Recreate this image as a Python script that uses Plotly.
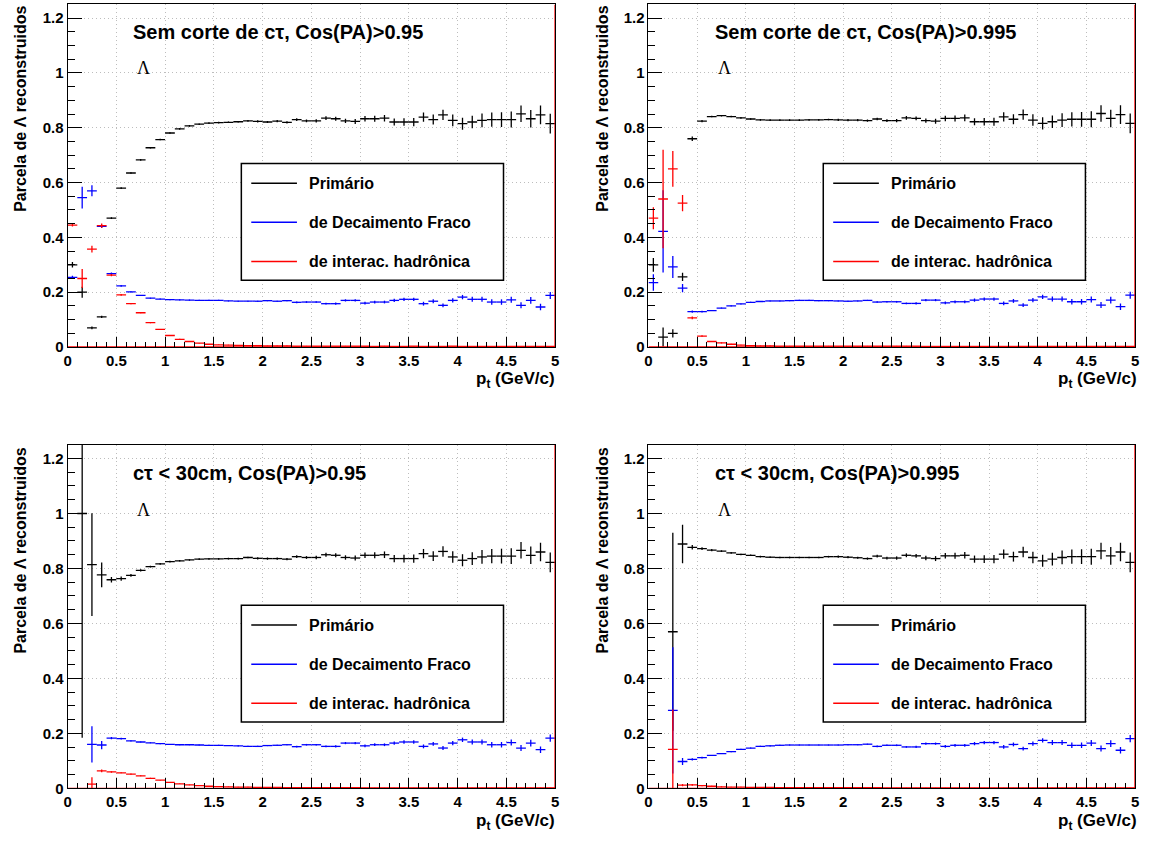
import plotly.graph_objects as go

W, H = 1151, 845

# ---------------- data ----------------
PT = [0.05, 0.15, 0.25, 0.35, 0.45, 0.55, 0.65, 0.75, 0.85, 0.95,
      1.05, 1.15, 1.25, 1.35, 1.45, 1.55, 1.65, 1.75, 1.85, 1.95,
      2.05, 2.15, 2.25, 2.35, 2.45, 2.55, 2.65, 2.75, 2.85, 2.95,
      3.05, 3.15, 3.25, 3.35, 3.45, 3.55, 3.65, 3.75, 3.85, 3.95,
      4.05, 4.15, 4.25, 4.35, 4.45, 4.55, 4.65, 4.75, 4.85, 4.95]
BIN_HALF = 0.05
PT_MIN, PT_MAX = 0.0, 5.0
Y_MIN, Y_MAX = 0.0, 1.25

ERR_PRIM_TAIL = [0.005, 0.006, 0.007, 0.007, 0.008, 0.009, 0.010, 0.011, 0.012, 0.013,
                 0.014, 0.015, 0.017, 0.018, 0.019, 0.021, 0.022, 0.023, 0.025, 0.026,
                 0.027, 0.029, 0.030, 0.032, 0.034, 0.036]
ERR_WEAK_TAIL = [0.003, 0.003, 0.003, 0.004, 0.004, 0.004, 0.005, 0.005, 0.005, 0.006,
                 0.006, 0.006, 0.007, 0.007, 0.007, 0.008, 0.008, 0.009, 0.009, 0.010,
                 0.010, 0.011, 0.011, 0.012, 0.012, 0.013]
ERR_HAD_TAIL = [0.001, 0.001, 0.001, 0.001, 0.001, 0.001, 0.001, 0.001, 0.001, 0.001,
                0.001, 0.001, 0.001, 0.001, 0.001, 0.001, 0.001, 0.001, 0.001, 0.001,
                0.001, 0.001, 0.001, 0.001, 0.001, 0.001]

# Panel 1: Sem corte de ctau, Cos(PA)>0.95
P1_PRIM = [0.300, 0.200, 0.070, 0.110, 0.470, 0.580, 0.635, 0.683, 0.727, 0.757,
           0.781, 0.796, 0.807, 0.813, 0.817, 0.819, 0.820, 0.822, 0.825, 0.823,
           0.821, 0.824, 0.820, 0.830, 0.825, 0.825, 0.835, 0.833, 0.825, 0.823,
           0.833, 0.833, 0.835, 0.821, 0.821, 0.821, 0.839, 0.830, 0.847, 0.827,
           0.815, 0.821, 0.827, 0.830, 0.830, 0.830, 0.851, 0.833, 0.847, 0.815]
P1_PRIM_ERR_LOW = [0.010, 0.020, 0.005, 0.004, 0.003, 0.003, 0.003, 0.003, 0.003, 0.003,
                   0.003, 0.003, 0.003, 0.003, 0.003, 0.003, 0.003, 0.003, 0.003, 0.004,
                   0.004, 0.004, 0.004, 0.005]
P1_WEAK = [0.254, 0.545, 0.570, 0.440, 0.268, 0.223, 0.201, 0.188, 0.178, 0.175,
           0.173, 0.172, 0.171, 0.170, 0.170, 0.170, 0.168, 0.167, 0.167, 0.167,
           0.169, 0.167, 0.169, 0.163, 0.164, 0.164, 0.158, 0.158, 0.170, 0.170,
           0.160, 0.164, 0.164, 0.170, 0.174, 0.174, 0.158, 0.167, 0.152, 0.170,
           0.182, 0.174, 0.174, 0.164, 0.164, 0.172, 0.152, 0.170, 0.146, 0.188]
P1_WEAK_ERR_LOW = [0.006, 0.040, 0.020, 0.006, 0.004, 0.003, 0.002, 0.002, 0.002, 0.002,
                   0.002, 0.002, 0.002, 0.002, 0.002, 0.002, 0.002, 0.002, 0.002, 0.002,
                   0.002, 0.002, 0.002, 0.003]
P1_HAD = [0.445, 0.250, 0.357, 0.443, 0.262, 0.190, 0.158, 0.125, 0.089, 0.064,
          0.042, 0.028, 0.020, 0.014, 0.010, 0.008, 0.007, 0.006, 0.005, 0.005,
          0.004, 0.004, 0.004, 0.003, 0.003, 0.003, 0.003, 0.003, 0.003, 0.003,
          0.003, 0.002, 0.003, 0.002, 0.002, 0.003, 0.002, 0.002, 0.002, 0.003,
          0.002, 0.002, 0.002, 0.002, 0.002, 0.002, 0.002, 0.002, 0.002, 0.002]
P1_HAD_ERR_LOW = [0.005, 0.035, 0.012, 0.008, 0.004, 0.003, 0.002, 0.002, 0.002, 0.002,
                  0.002, 0.002, 0.001, 0.001, 0.001, 0.001, 0.001, 0.001, 0.001, 0.001,
                  0.001, 0.001, 0.001, 0.001]

# Panel 2: Sem corte de ctau, Cos(PA)>0.995
P2_PRIM = [0.300, 0.036, 0.050, 0.256, 0.760, 0.824, 0.841, 0.844, 0.841, 0.836,
           0.832, 0.829, 0.828, 0.828, 0.828, 0.828, 0.829, 0.829, 0.830, 0.829,
           0.828, 0.828, 0.826, 0.832, 0.826, 0.826, 0.836, 0.834, 0.826, 0.824,
           0.834, 0.834, 0.836, 0.822, 0.822, 0.822, 0.840, 0.831, 0.848, 0.828,
           0.816, 0.822, 0.828, 0.831, 0.831, 0.831, 0.852, 0.834, 0.848, 0.816]
P2_PRIM_ERR_LOW = [0.025, 0.035, 0.015, 0.015, 0.008, 0.004, 0.003, 0.003, 0.003, 0.003,
                   0.003, 0.003, 0.003, 0.003, 0.003, 0.003, 0.003, 0.003, 0.003, 0.004,
                   0.004, 0.004, 0.004, 0.005]
P2_WEAK = [0.235, 0.422, 0.292, 0.215, 0.129, 0.129, 0.133, 0.142, 0.150, 0.157,
           0.163, 0.166, 0.168, 0.168, 0.169, 0.170, 0.170, 0.169, 0.169, 0.168,
           0.167, 0.168, 0.170, 0.164, 0.165, 0.165, 0.159, 0.159, 0.171, 0.171,
           0.161, 0.165, 0.165, 0.171, 0.175, 0.175, 0.159, 0.168, 0.153, 0.171,
           0.183, 0.175, 0.175, 0.165, 0.165, 0.173, 0.153, 0.171, 0.147, 0.189]
P2_WEAK_ERR_LOW = [0.030, 0.150, 0.040, 0.015, 0.004, 0.003, 0.002, 0.002, 0.002, 0.002,
                   0.002, 0.002, 0.002, 0.002, 0.002, 0.002, 0.002, 0.002, 0.002, 0.002,
                   0.002, 0.002, 0.002, 0.003]
P2_HAD = [0.470, 0.540, 0.650, 0.525, 0.106, 0.040, 0.020, 0.015, 0.010, 0.007,
          0.005, 0.004, 0.004, 0.003, 0.003, 0.003, 0.003, 0.003, 0.003, 0.003,
          0.003, 0.003, 0.003, 0.003, 0.003, 0.003, 0.003, 0.003, 0.002, 0.002,
          0.002, 0.002, 0.002, 0.002, 0.002, 0.002, 0.002, 0.002, 0.002, 0.002,
          0.002, 0.002, 0.002, 0.002, 0.002, 0.002, 0.002, 0.002, 0.002, 0.002]
P2_HAD_ERR_LOW = [0.040, 0.180, 0.065, 0.030, 0.005, 0.003, 0.002, 0.002, 0.002, 0.001,
                  0.001, 0.001, 0.001, 0.001, 0.001, 0.001, 0.001, 0.001, 0.001, 0.001,
                  0.001, 0.001, 0.001, 0.001]

# Panel 3: ctau < 30cm, Cos(PA)>0.95
P3_PRIM = [None, 1.000, 0.814, 0.777, 0.759, 0.763, 0.775, 0.793, 0.807, 0.817,
           0.825, 0.828, 0.831, 0.834, 0.835, 0.835, 0.836, 0.836, 0.840, 0.837,
           0.836, 0.836, 0.834, 0.843, 0.840, 0.840, 0.850, 0.848, 0.840, 0.838,
           0.848, 0.848, 0.850, 0.836, 0.836, 0.836, 0.854, 0.845, 0.862, 0.842,
           0.830, 0.836, 0.842, 0.845, 0.845, 0.845, 0.866, 0.848, 0.860, 0.822]
P3_PRIM_ERR_LOW = [0.000, 0.816, 0.187, 0.045, 0.010, 0.008, 0.005, 0.004, 0.003, 0.003,
                   0.003, 0.003, 0.003, 0.003, 0.003, 0.003, 0.003, 0.003, 0.003, 0.004,
                   0.004, 0.004, 0.004, 0.005]
P3_WEAK = [None, None, 0.160, 0.158, 0.183, 0.181, 0.173, 0.169, 0.166, 0.163,
           0.160, 0.159, 0.159, 0.158, 0.157, 0.157, 0.156, 0.155, 0.153, 0.153,
           0.156, 0.157, 0.159, 0.152, 0.159, 0.159, 0.153, 0.153, 0.165, 0.165,
           0.155, 0.159, 0.159, 0.165, 0.169, 0.169, 0.153, 0.162, 0.147, 0.165,
           0.177, 0.169, 0.169, 0.159, 0.159, 0.167, 0.147, 0.165, 0.141, 0.183]
P3_WEAK_ERR_LOW = [0.000, 0.000, 0.066, 0.015, 0.004, 0.003, 0.002, 0.002, 0.002, 0.002,
                   0.002, 0.002, 0.002, 0.002, 0.002, 0.002, 0.002, 0.002, 0.002, 0.002,
                   0.002, 0.002, 0.002, 0.003]
P3_HAD = [None, None, 0.016, 0.064, 0.060, 0.057, 0.052, 0.046, 0.037, 0.030,
          0.022, 0.017, 0.013, 0.010, 0.008, 0.007, 0.006, 0.005, 0.005, 0.004,
          0.004, 0.004, 0.003, 0.003, 0.003, 0.003, 0.003, 0.003, 0.003, 0.003,
          0.002, 0.002, 0.002, 0.002, 0.002, 0.002, 0.002, 0.002, 0.002, 0.002,
          0.002, 0.002, 0.002, 0.002, 0.002, 0.002, 0.002, 0.002, 0.002, 0.002]
P3_HAD_ERR_LOW = [0.000, 0.000, 0.025, 0.005, 0.003, 0.002, 0.002, 0.002, 0.002, 0.001,
                  0.001, 0.001, 0.001, 0.001, 0.001, 0.001, 0.001, 0.001, 0.001, 0.001,
                  0.001, 0.001, 0.001, 0.001]

# Panel 4: ctau < 30cm, Cos(PA)>0.995
P4_PRIM = [None, None, 0.570, 0.889, 0.877, 0.872, 0.867, 0.863, 0.857, 0.851,
           0.848, 0.843, 0.841, 0.840, 0.840, 0.840, 0.840, 0.840, 0.843, 0.843,
           0.841, 0.839, 0.836, 0.845, 0.838, 0.838, 0.848, 0.846, 0.838, 0.836,
           0.846, 0.846, 0.848, 0.834, 0.834, 0.834, 0.852, 0.843, 0.860, 0.840,
           0.828, 0.834, 0.840, 0.843, 0.843, 0.843, 0.864, 0.846, 0.860, 0.822]
P4_PRIM_ERR_LOW = [0.000, 0.000, 0.360, 0.070, 0.008, 0.005, 0.004, 0.003, 0.003, 0.003,
                   0.003, 0.003, 0.003, 0.003, 0.003, 0.003, 0.003, 0.003, 0.003, 0.004,
                   0.004, 0.004, 0.004, 0.005]
P4_WEAK = [None, None, 0.284, 0.098, 0.106, 0.112, 0.120, 0.127, 0.134, 0.142,
           0.147, 0.153, 0.155, 0.157, 0.158, 0.158, 0.158, 0.158, 0.158, 0.158,
           0.159, 0.159, 0.161, 0.153, 0.157, 0.157, 0.151, 0.151, 0.163, 0.163,
           0.153, 0.157, 0.157, 0.163, 0.167, 0.167, 0.151, 0.160, 0.145, 0.163,
           0.175, 0.167, 0.167, 0.157, 0.157, 0.165, 0.145, 0.163, 0.139, 0.181]
P4_WEAK_ERR_LOW = [0.000, 0.000, 0.230, 0.013, 0.004, 0.003, 0.002, 0.002, 0.002, 0.002,
                   0.002, 0.002, 0.002, 0.002, 0.002, 0.002, 0.002, 0.002, 0.002, 0.002,
                   0.002, 0.002, 0.002, 0.003]
P4_HAD = [None, None, 0.142, 0.012, 0.013, 0.010, 0.008, 0.006, 0.005, 0.005,
          0.004, 0.004, 0.004, 0.003, 0.003, 0.003, 0.003, 0.003, 0.003, 0.003,
          0.003, 0.003, 0.003, 0.003, 0.002, 0.002, 0.002, 0.002, 0.002, 0.002,
          0.002, 0.002, 0.002, 0.002, 0.002, 0.002, 0.002, 0.002, 0.002, 0.002,
          0.002, 0.002, 0.002, 0.002, 0.002, 0.002, 0.002, 0.002, 0.002, 0.002]
P4_HAD_ERR_LOW = [0.000, 0.000, 0.145, 0.004, 0.003, 0.002, 0.002, 0.002, 0.001, 0.001,
                  0.001, 0.001, 0.001, 0.001, 0.001, 0.001, 0.001, 0.001, 0.001, 0.001,
                  0.001, 0.001, 0.001, 0.001]

TITLES = ["Sem corte de cτ, Cos(PA)>0.95", "Sem corte de cτ, Cos(PA)>0.995",
          "cτ < 30cm, Cos(PA)>0.95", "cτ < 30cm, Cos(PA)>0.995"]
LEGEND_LABELS = ["Primário", "de Decaimento Fraco", "de interac. hadrônica"]
PARTICLE = "Λ"
Y_TITLE = "Parcela de Λ reconstruidos"
X_TITLE = "p<sub>t</sub> (GeV/c)"

BLACK, BLUE, RED = "#000000", "#0000ff", "#ff0000"
COLORS = [BLACK, BLUE, RED]
SANS = "Liberation Sans, Arial, Helvetica, sans-serif"
SERIF = "Liberation Serif, Times New Roman, serif"

PANELS = [
    dict(series=[(P1_PRIM, P1_PRIM_ERR_LOW + ERR_PRIM_TAIL),
                 (P1_WEAK, P1_WEAK_ERR_LOW + ERR_WEAK_TAIL),
                 (P1_HAD, P1_HAD_ERR_LOW + ERR_HAD_TAIL)]),
    dict(series=[(P2_PRIM, P2_PRIM_ERR_LOW + ERR_PRIM_TAIL),
                 (P2_WEAK, P2_WEAK_ERR_LOW + ERR_WEAK_TAIL),
                 (P2_HAD, P2_HAD_ERR_LOW + ERR_HAD_TAIL)]),
    dict(series=[(P3_PRIM, P3_PRIM_ERR_LOW + ERR_PRIM_TAIL),
                 (P3_WEAK, P3_WEAK_ERR_LOW + ERR_WEAK_TAIL),
                 (P3_HAD, P3_HAD_ERR_LOW + ERR_HAD_TAIL)]),
    dict(series=[(P4_PRIM, P4_PRIM_ERR_LOW + ERR_PRIM_TAIL),
                 (P4_WEAK, P4_WEAK_ERR_LOW + ERR_WEAK_TAIL),
                 (P4_HAD, P4_HAD_ERR_LOW + ERR_HAD_TAIL)]),
]

# ---------------- layout geometry (pixels of the 1151x845 canvas) ----------------
def px(x):
    return x / W


def py(y):
    return 1 - y / H


COL_X = [(64, 555), (649, 1139)]
ROW_Y = [(4.5, 350.3), (449, 796)]
GRID = [(0, 0), (1, 0), (0, 1), (1, 1)]

fig = go.Figure()
axis_names = [("x", "y"), ("x2", "y2"), ("x3", "y3"), ("x4", "y4")]

for i, panel in enumerate(PANELS):
    xa, ya = axis_names[i]
    for (vals, errs), col in zip(panel["series"], COLORS):
        fig.add_trace(go.Scatter(
            x=PT, y=vals, mode="markers", xaxis=xa, yaxis=ya,
            marker=dict(size=1, color=col, opacity=0),
            error_y=dict(type="data", array=errs, visible=True, width=0,
                         thickness=1.3, color=col),
            error_x=dict(type="constant", value=BIN_HALF, visible=True, width=0,
                         thickness=1.3, color=col),
            showlegend=False, hoverinfo="skip"))
    fig.add_trace(go.Scatter(
        x=[PT_MIN, PT_MAX, PT_MAX], y=[Y_MIN, Y_MIN, Y_MAX], mode="lines",
        xaxis=xa, yaxis=ya, line=dict(color=RED, width=1.5),
        showlegend=False, hoverinfo="skip", cliponaxis=False))

layout = dict(
    autosize=True, margin=dict(l=0, r=0, t=0, b=0, pad=0),
    paper_bgcolor="white", plot_bgcolor="white", showlegend=False,
)

annotations = []
shapes = []
for i, (c, r) in enumerate(GRID):
    x0, x1 = COL_X[c]
    y0, y1 = ROW_Y[r]
    sfx = "" if i == 0 else str(i + 1)
    common = dict(showline=True, linecolor="black", linewidth=1, mirror=True,
                  ticks="inside", tickcolor="black", tickwidth=1,
                  showgrid=True, gridcolor="#bdbdbd", griddash="1px,3px", gridwidth=1,
                  zeroline=False,
                  tickfont=dict(family=SANS, size=15, color="black", weight="bold"))
    layout["xaxis" + sfx] = dict(
        common, domain=[px(x0), px(x1)], range=[PT_MIN, PT_MAX],
        anchor="y" + sfx, tick0=0, dtick=0.5, ticklen=10,
        minor=dict(dtick=0.1, ticks="inside", ticklen=5, tickcolor="black",
                   showgrid=False))
    layout["yaxis" + sfx] = dict(
        common, domain=[py(y1), py(y0)], range=[Y_MIN, Y_MAX],
        anchor="x" + sfx, tick0=0, dtick=0.2, ticklen=14,
        minor=dict(dtick=0.05, ticks="inside", ticklen=7, tickcolor="black",
                   showgrid=False))

    dx = 0 if c == 0 else 586
    dy = 0 if r == 0 else 446

    annotations.append(dict(x=px(128 + dx), y=py(32 + dy), xref="paper", yref="paper",
                            text=TITLES[i], showarrow=False, xanchor="left", yanchor="middle",
                            font=dict(family=SANS, size=20, color="black", weight="bold")))
    annotations.append(dict(x=px(140 + dx), y=py(69 + dy), xref="paper", yref="paper",
                            text=PARTICLE, showarrow=False, xanchor="center", yanchor="middle",
                            font=dict(family=SERIF, size=18, color="black")))
    annotations.append(dict(x=px(17 + dx), y=py(110 + dy), xref="paper", yref="paper",
                            text=Y_TITLE, showarrow=False, textangle=-90,
                            xanchor="center", yanchor="middle",
                            font=dict(family=SANS, size=16, color="black", weight="bold")))
    annotations.append(dict(x=px(557 + dx), y=py(384 + dy), xref="paper", yref="paper",
                            text=X_TITLE, showarrow=False, xanchor="right", yanchor="middle",
                            font=dict(family=SANS, size=17, color="black", weight="bold")))
    lx0, ly0, lx1, ly1 = 239 + dx, 165 + dy, 503 + dx, 283 + dy
    shapes.append(dict(type="rect", xref="paper", yref="paper",
                       x0=px(lx0), x1=px(lx1), y0=py(ly1), y1=py(ly0),
                       line=dict(color="black", width=1.5), fillcolor="white", layer="above"))
    for k, (lab, col) in enumerate(zip(LEGEND_LABELS, COLORS)):
        yy = 185 + dy + k * 39.5
        shapes.append(dict(type="line", xref="paper", yref="paper",
                           x0=px(249 + dx), x1=px(295 + dx), y0=py(yy), y1=py(yy),
                           line=dict(color=col, width=1.5), layer="above"))
        annotations.append(dict(x=px(305 + dx), y=py(yy), xref="paper", yref="paper",
                                text=lab, showarrow=False, xanchor="left", yanchor="middle",
                                font=dict(family=SANS, size=16, color="black", weight="bold")))

layout["annotations"] = annotations
layout["shapes"] = shapes
fig.update_layout(**layout)

POST = ("document.documentElement.style.margin='0px';"
        "document.body.style.margin='0px';document.body.style.overflow='hidden';"
        "var gd=document.getElementById('{plot_id}');"
        "gd.style.position='fixed';gd.style.left='0px';gd.style.top='0px';"
        "gd.style.width='100vw';gd.style.height='100vh';"
        "Plotly.Plots.resize(gd);")
fig.write_html("out.html", config={"displayModeBar": False, "responsive": True},
               default_width="100vw", default_height="100vh", post_script=POST)
